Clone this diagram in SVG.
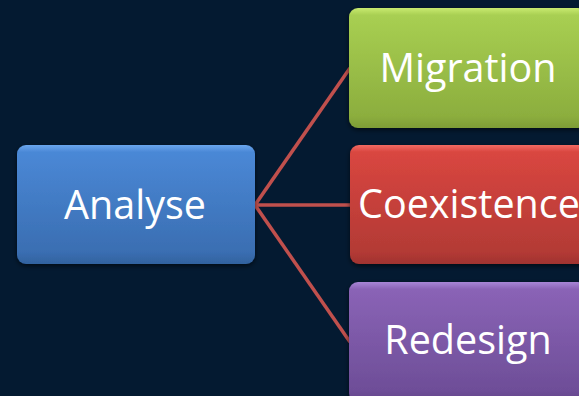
<svg xmlns="http://www.w3.org/2000/svg" width="579" height="396" viewBox="0 0 579 396">
<defs>
<linearGradient id="gB" x1="0" y1="0" x2="0" y2="1"><stop offset="0" stop-color="#6aa6ee"/><stop offset="0.06" stop-color="#4a88d6"/><stop offset="0.9" stop-color="#3a6eb2"/><stop offset="1" stop-color="#32629e"/></linearGradient>
<linearGradient id="gG" x1="0" y1="0" x2="0" y2="1"><stop offset="0" stop-color="#c8ea70"/><stop offset="0.06" stop-color="#a8cf52"/><stop offset="0.9" stop-color="#8cae3e"/><stop offset="1" stop-color="#7e9d36"/></linearGradient>
<linearGradient id="gR" x1="0" y1="0" x2="0" y2="1"><stop offset="0" stop-color="#f26a62"/><stop offset="0.06" stop-color="#d94640"/><stop offset="0.9" stop-color="#b33a35"/><stop offset="1" stop-color="#a0332f"/></linearGradient>
<linearGradient id="gP" x1="0" y1="0" x2="0" y2="1"><stop offset="0" stop-color="#a886d6"/><stop offset="0.06" stop-color="#8a63b6"/><stop offset="0.9" stop-color="#6e4e98"/><stop offset="1" stop-color="#634589"/></linearGradient>
<filter id="sh" x="-10%" y="-10%" width="120%" height="130%"><feGaussianBlur in="SourceAlpha" stdDeviation="2.5"/><feOffset dy="2" result="b"/><feFlood flood-color="#000" flood-opacity="0.6"/><feComposite in2="b" operator="in"/><feMerge><feMergeNode/><feMergeNode in="SourceGraphic"/></feMerge></filter>
</defs>
<style>
.box{filter:url(#sh)}
.t{font-family:"Open Sans","Noto Sans","DejaVu Sans",sans-serif;font-size:39.5px;fill:#fff;text-anchor:middle}
.c{stroke:#c0504d;stroke-width:3.5;fill:none}
</style>
<rect width="579" height="396" fill="#041a31"/>
<g id="connectors">
<line class="c" x1="255" y1="205" x2="350" y2="68"/>
<line class="c" x1="255" y1="205" x2="350" y2="205"/>
<line class="c" x1="255" y1="205" x2="350" y2="342"/>
</g>
<g id="analyse"><rect class="box" x="17" y="145" width="238" height="119" rx="9" fill="url(#gB)"/><text class="t" x="135" y="219">Analyse</text></g>
<g id="migration"><rect class="box" x="349" y="8" width="238" height="120" rx="9" fill="url(#gG)"/><text class="t" x="468" y="82">Migration</text></g>
<g id="coexistence"><rect class="box" x="350" y="145" width="238" height="119" rx="9" fill="url(#gR)"/><text class="t" x="469" y="218">Coexistence</text></g>
<g id="redesign"><rect class="box" x="349" y="282" width="238" height="120" rx="9" fill="url(#gP)"/><text class="t" x="468" y="354">Redesign</text></g>
</svg>
